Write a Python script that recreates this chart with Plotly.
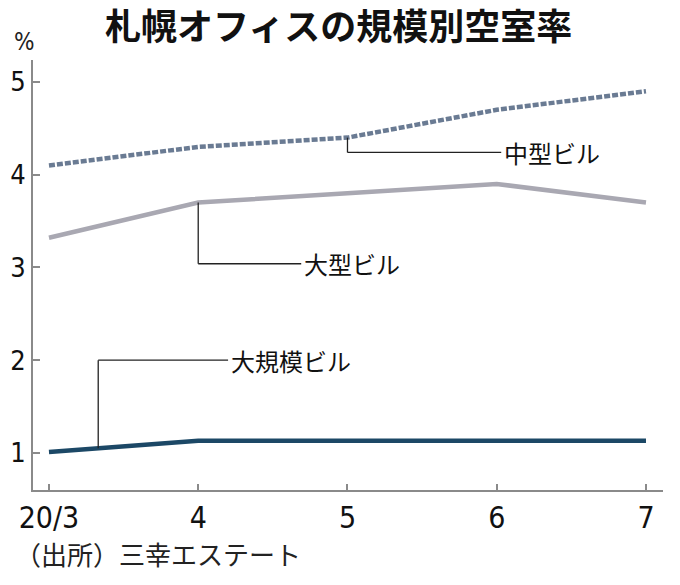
"""
Sapporo office vacancy rate by building size.
"""
# Imports.
import plotly.graph_objects as go

# Data.
months = ['20/3', '4', '5', '6', '7']
mid_size = [4.1, 4.3, 4.4, 4.7, 4.9]       # 中型ビル
large = [3.32, 3.7, 3.8, 3.9, 3.7]          # 大型ビル
very_large = [1.01, 1.13, 1.13, 1.13, 1.13]  # 大規模ビル
y_ticks = [1, 2, 3, 4, 5]

JP = 'Noto Sans CJK JP'
NUM = 'Liberation Sans Narrow, DejaVu Sans Condensed, Roboto, sans-serif'
xs = list(range(len(months)))

# The page body has an 8px margin, so everything is drawn 8px up/left of the target.
OFF = 8
L, R, T, B = 33 - OFF, 663 - OFF, 60 - OFF, 490 - OFF


def px(x, y):
    """Target page pixel -> paper coordinates."""
    return (x - OFF - L) / (R - L), (B - (y - OFF)) / (B - T)


# Create figure.
fig = go.Figure()
fig.add_trace(go.Scatter(x=xs, y=very_large, mode='lines', line=dict(color='#1c4866', width=4.5)))
fig.add_trace(go.Scatter(x=xs, y=large, mode='lines', line=dict(color='#a9a8b2', width=4.5)))
fig.add_trace(go.Scatter(x=xs, y=mid_size, mode='lines',
                         line=dict(color='#6a7b93', width=4.5, dash='6px,2px')))

# Leader lines and labels: (x on line, y on line, elbow y, end x, label).
leaders = [
    (2, mid_size[2], 4.24, 3.03, '中型ビル'),
    (1, large[1], 3.04, 1.69, '大型ビル'),
    (0.33, very_large[0] + 0.33 * (very_large[1] - very_large[0]), 2.0, 1.2, '大規模ビル'),
]
for x0, y0, y1, x1, name in leaders:
    fig.add_shape(type='line', xref='x', yref='y', x0=x0, y0=y0, x1=x0, y1=y1,
                  line=dict(color='#222222', width=1.3))
    fig.add_shape(type='line', xref='x', yref='y', x0=x0, y0=y1, x1=x1, y1=y1,
                  line=dict(color='#222222', width=1.3))
    fig.add_annotation(x=x1, y=y1, xref='x', yref='y', text=name, showarrow=False,
                       xanchor='left', yanchor='middle', xshift=1,
                       font=dict(family=JP, size=24, color='#111111'))

# Title, unit and source.
tx, ty = px(338, 24)
fig.add_annotation(text='<b>札幌オフィスの規模別空室率</b>', x=tx, y=ty, xref='paper', yref='paper',
                   showarrow=False, xanchor='center', yanchor='middle',
                   font=dict(family=JP, size=36, color='#111111'))
ux, uy = px(12, 42)
fig.add_annotation(text='%', x=ux, y=uy, xref='paper', yref='paper', showarrow=False,
                   xanchor='left', yanchor='middle', font=dict(family=NUM, size=24, color='#222222'))
sx, sy = px(13, 553)
fig.add_annotation(text='（出所）三幸エステート', x=sx, y=sy, xref='paper', yref='paper',
                   showarrow=False, xanchor='left', yanchor='middle',
                   font=dict(family=JP, size=26, color='#222222'))

fig.update_layout(
    width=680, height=585, showlegend=False,
    margin=dict(l=L, r=680 - R, t=T, b=585 - B, autoexpand=False),
    paper_bgcolor='white', plot_bgcolor='white',
    xaxis=dict(range=[-0.107, 4.114], tickmode='array', tickvals=xs, ticktext=months,
               showgrid=False, zeroline=False, showline=True, linecolor='#8a8a8a', linewidth=2,
               ticks='inside', ticklen=6, tickcolor='#8a8a8a', tickwidth=1.5, automargin=False,
               ticklabelstandoff=0,
               tickfont=dict(family=NUM, size=30, color='#111111')),
    yaxis=dict(range=[0.6, 5.237], tickmode='array', tickvals=y_ticks,
               showgrid=False, zeroline=False, showline=True, linecolor='#8a8a8a', linewidth=2,
               ticks='inside', ticklen=7, tickcolor='#8a8a8a', tickwidth=1.5, automargin=False,
               ticklabelstandoff=0,
               tickfont=dict(family=NUM, size=27, color='#111111')),
)

fig.write_html('out.html')
